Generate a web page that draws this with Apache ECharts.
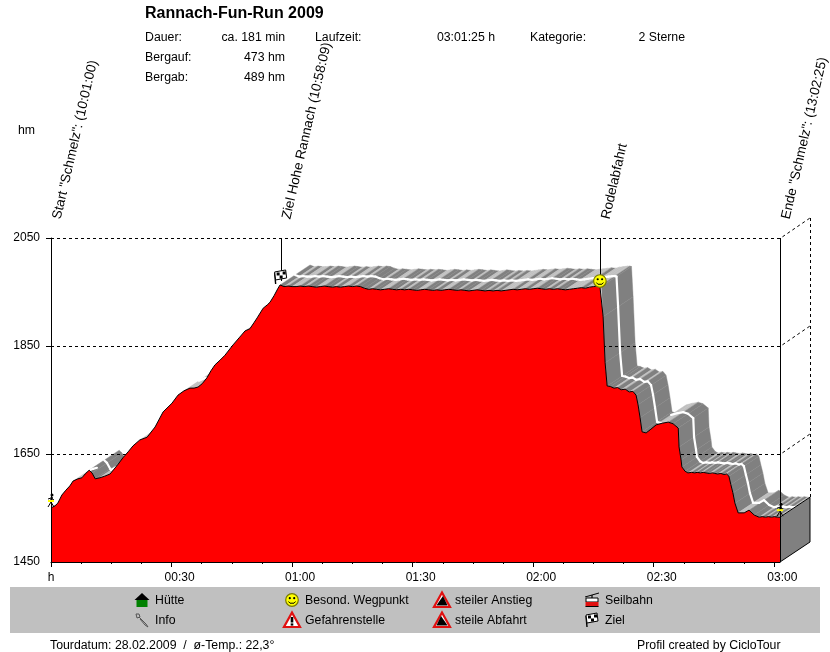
<!DOCTYPE html>
<html><head><meta charset="utf-8">
<style>html,body{margin:0;padding:0;background:#fff}#c{width:830px;height:652px}</style>
<script src="https://cdn.jsdelivr.net/npm/echarts@6/dist/echarts.min.js"></script>
</head><body><div id="c"></div>
<script>
// ---- data ----
const times = [0,1,1.7,2.7,3.7,4.7,5.5,6.7,7.7,8.5,9.5,10.2,11,11.2,12.2,13.4,14.7,15.7,16.7,17.9,19.2,20.4,22.1,23.9,25.9,27.9,30.1,31.6,33.1,34.6,35.6,36.6,37.6,38.8,39.8,40.8,42.1,43.3,45.3,46.8,48.3,49.5,50.5,51.3,52.8,53.8,54.5,55.5,56.5,57,
58,59,60,61,62,63,64,65,66,67,68,69,70,71,72,73,74,75,76,77,78,79,80,81,82,83,84,85,86,87,88,89,90,91,92,93,94,95,96,97,98,99,100,101,102,103,104,105,106,107,108,109,110,111,112,113,114,115,116,117,118,119,120,121,122,123,124,125,126,127,128,129,130,131,132,133,134,135,136,136.6,137,137.4,137.9,138.4,
139.2,140.1,141,141.9,142.9,143.9,144.8,145.6,146.1,146.6,147.1,148.1,149.3,150.6,152.1,153.6,154.8,156.1,156.3,156.8,157,157.8,158.5,159.4,160.2,160.8,161.6,162.3,163,163.8,164.6,165.2,165.9,166.7,167.5,168.1,168.7,169.2,169.7,170.2,171,172.5,173.7,175,176.2,177,177.8,178.5,179.3,180,180.8,181.42];
const elevations = [1550,1554,1559,1574,1583,1591,1600,1604,1606,1613,1620,1615,1604,1602,1606,1609,1613,1622,1631,1643,1654,1665,1676,1681,1700,1728,1744,1759,1767,1772,1772,1774,1780,1791,1804,1815,1824,1833,1852,1865,1878,1882,1893,1902,1920,1926,1931,1943,1957,1963,
1960,1961,1960,1960,1961,1960,1961,1960,1959,1960,1961,1960,1959,1960,1959,1960,1961,1960,1961,1960,1957,1955,1956,1955,1954,1955,1956,1955,1954,1955,1954,1955,1954,1953,1954,1955,1954,1953,1954,1953,1954,1955,1954,1953,1954,1953,1952,1953,1954,1953,1952,1953,1952,1953,1952,1953,1954,1955,1954,1955,1956,1955,1956,1957,1956,1955,1956,1955,1956,1955,1954,1955,1956,1957,1958,1957,1959,1960,1961,1961,1960,1904,1819,1776,
1775,1772,1773,1769,1770,1765,1766,1759,1741,1717,1691,1689,1696,1704,1707,1709,1706,1698,1663,1639,1626,1618,1615,1616,1615,1616,1615,1616,1615,1614,1615,1614,1613,1614,1612,1613,1609,1593,1578,1559,1541,1541,1546,1537,1533,1534,1533,1534,1533,1534,1533,1533];
const yTicks = [1450,1650,1850,2050];
const gridLevels = [1650,1850,2050];
const xMajor = [0,30,60,90,120,150,180];
const xMinor = [7.5,15,22.5,37.5,45,52.5,67.5,75,82.5,97.5,105,112.5,127.5,135,142.5,157.5,165,172.5];
const tourEnd = 181.42;
const waypointTimes = [0,57.15,136.6,181.42];
const waypointLabels = ['Start "Schmelz": (10:01:00)','Ziel Hohe Rannach (10:58:09)','Rodelabfahrt','Ende "Schmelz": (13:02:25)'];
const waypointIcons = ['runner','flag','smile','runner'];
const waypointElev = [1550,1963,1961,1533];
const titleText = 'Rannach-Fun-Run 2009';
const infoLeft = [['Dauer:','ca. 181 min'],['Bergauf:','473 hm'],['Bergab:','489 hm']];
const infoMid = ['Laufzeit:','03:01:25 h'];
const infoRight = ['Kategorie:','2 Sterne'];
const legendNames = [['Hütte','Info'],['Besond. Wegpunkt','Gefahrenstelle'],['steiler Anstieg','steile Abfahrt'],['Seilbahn','Ziel']];
const legendIcons = [['house','pin'],['smile','danger'],['up','down'],['cable','flag']];
const footerLeft = 'Tourdatum: 28.02.2009  /  ø-Temp.: 22,3°';
const footerRight = 'Profil created by CicloTour';

// ---- look ----
const FONT = '"Liberation Sans",Arial,sans-serif';
const DX = 30, DY = -20;
const series3d = times.map((t,i)=>[t,elevations[i]]);
const TXT = '#000';

// ---- icons (local coordinates around 0,0) ----
function poly(points,fill,stroke,lw){return {type:'polygon',shape:{points},style:{fill:fill||'none',stroke:stroke||'none',lineWidth:lw||1}};}
function pl(points,stroke,lw){return {type:'polyline',shape:{points},style:{fill:'none',stroke:stroke||'#000',lineWidth:lw||1}};}
function circ(x,y,r,fill,stroke,lw){return {type:'circle',shape:{cx:x,cy:y,r},style:{fill,stroke:stroke||'none',lineWidth:lw||1}};}
function rect(x,y,w,h,fill){return {type:'rect',shape:{x,y,width:w,height:h},style:{fill}};}
const ICONS = {
  smile:()=>[circ(0,0,6.3,'#ffff00','#7a7a00',1.2),circ(-2.2,-1.8,1.1,'#000'),circ(2.2,-1.8,1.1,'#000'),pl([[-3.5,1.5],[-2,3.2],[2,3.2],[3.5,1.5]],'#000',1)],
  flag:()=>[pl([[-5,7],[-6,-4]],'#000',1.4),poly([[-6,-5],[5,-7],[6,1],[-5,3]],'#fff','#000',1),rect(-4,-4.5,3,3,'#000'),rect(2,-5.5,3,3,'#000'),rect(-1,-1.5,3,3,'#000')],
  runner:()=>[circ(1,-7,1.5,'#000'),pl([[1,-5],[0,-1]],'#000',2),pl([[-3,-3],[0,-4],[3,-2]],'#000',1),pl([[-3,-1],[3,-1]],'#ffff00',2),pl([[0,0],[-3,5]],'#000',1),pl([[0,0],[3,5]],'#000',1)],
  house:()=>[poly([[-7.5,0],[0,-7],[7.5,0]],'#000'),rect(-5.5,0,11,7,'#008000')],
  pin:()=>[pl([[-6,-6],[-3,-6],[-2,-3],[-5,-2],[-6,-6]],'#555',1),pl([[-3,-3],[4,4],[6,7],[3,5],[-2,-1]],'#555',1)],
  danger:()=>[poly([[0,-7.5],[8,7],[-8,7]],'#fff','#e01010',2.2),rect(-1.3,-3,2.6,5.5,'#000'),rect(-1.3,3.4,2.6,2.2,'#000')],
  up:()=>[poly([[0,-7.5],[8,7],[-8,7]],'#fff','#e01010',2.2),poly([[1,-4],[5.6,5.6],[-5.6,5.6]],'#000')],
  down:()=>[poly([[0,-7.5],[8,7],[-8,7]],'#fff','#e01010',2.2),poly([[-1,-4],[5.6,5.6],[-5.6,5.6]],'#000')],
  cable:()=>[pl([[-7,-3],[7,-7]],'#000',1),pl([[0,-5],[0,-2]],'#000',1.2),poly([[-6,-2],[6,-2],[6,2],[-6,2]],'#fff','#000',1),rect(-6.5,2,13,4.5,'#e01010'),rect(-6.5,6,13,1,'#000')]
};
function icon(name,x,y){return {type:'group',x,y,children:ICONS[name]()};}
function txt(text,x,y,opt){opt=opt||{};return {type:'text',x,y,z:20,style:{text,fill:TXT,font:(opt.font||'12.3px '+FONT),textAlign:opt.align||'left',textVerticalAlign:'middle'}};}

// ---- fixed page furniture ----
const graphics = [{type:'rect',z:0,shape:{x:10,y:587,width:810,height:46},style:{fill:'#c0c0c0'}}];
graphics.push(txt(titleText,145,14,{font:'bold 16px '+FONT}));
infoLeft.forEach((r,i)=>{graphics.push(txt(r[0],145,38+20*i));graphics.push(txt(r[1],285,38+20*i,{align:'right'}));});
graphics.push(txt(infoMid[0],315,38));graphics.push(txt(infoMid[1],495,38,{align:'right'}));
graphics.push(txt(infoRight[0],530,38));graphics.push(txt(infoRight[1],685,38,{align:'right'}));
graphics.push(txt('hm',18,131));
const legendX=[155,305,455,605];
legendNames.forEach((col,c)=>col.forEach((n,r)=>{
  const y=600+20*r;
  graphics.push(txt(n,legendX[c],y+1));
  const ic=icon(legendIcons[c][r],legendX[c]-13,y); ic.z=20; graphics.push(ic);
}));
graphics.push(txt(footerLeft,50,646));
graphics.push(txt(footerRight,637,646));

// ---- series renderers ----
function backFacing(a,b){ return (b[1]-a[1])*DX < DY*(b[0]-a[0]); }
function ribbon(params,api){
  const i=params.dataIndex; if(i>=times.length-1) return;
  const a=api.coord([times[i],elevations[i]]), b=api.coord([times[i+1],elevations[i+1]]);
  if(backFacing(a,b)) return;
  const col=elevations[i+1]<elevations[i]?'#808080':'#c0c0c0';
  return {type:'polygon',shape:{points:[a,b,[b[0]+DX,b[1]+DY],[a[0]+DX,a[1]+DY]]},style:{fill:col,stroke:col,lineWidth:0.4}};
}
function midline(params,api){
  const i=params.dataIndex; if(i>=times.length-1) return;
  const a=api.coord([times[i],elevations[i]]), b=api.coord([times[i+1],elevations[i+1]]);
  if(backFacing(a,b)) return;
  return {type:'line',shape:{x1:a[0]+DX/2,y1:a[1]+DY/2,x2:b[0]+DX/2,y2:b[1]+DY/2},style:{stroke:'#fff',lineWidth:2.2,lineCap:'round'}};
}
function gridRender(params,api){
  const v=gridLevels[params.dataIndex];
  const a=api.coord([0,v]),b=api.coord([tourEnd,v]);
  const s={fill:'none',stroke:'#000',lineWidth:1,lineDash:[3,3]};
  const kids=[{type:'polyline',shape:{points:[[a[0],a[1]+.5],[b[0],b[1]+.5],[b[0]+DX,b[1]+DY]]},style:s}];
  if(v===2050){const e=api.coord([tourEnd,elevations[elevations.length-1]]);
    kids.push({type:'line',shape:{x1:b[0]+DX+.5,y1:b[1]+DY,x2:b[0]+DX+.5,y2:e[1]+DY},style:s});}
  return {type:'group',children:kids};
}
function endFace(params,api){
  if(params.dataIndex!==0) return;
  const t=api.coord([tourEnd,elevations[elevations.length-1]]),o=api.coord([tourEnd,yTicks[0]]);
  return {type:'polygon',shape:{points:[t,[t[0]+DX,t[1]+DY],[o[0]+DX,o[1]+DY],o]},style:{fill:'#808080',stroke:'#000',lineWidth:1}};
}
function waypoints(params,api){
  const i=params.dataIndex;
  const top=api.coord([waypointTimes[i],2050]),p=api.coord([waypointTimes[i],waypointElev[i]]);
  const kids=[];
  const edge=i===0||i===3;
  const x=Math.round(top[0])+.5;
  if(!edge) kids.push({type:'line',shape:{x1:x,y1:top[1],x2:x,y2:p[1]-4},style:{stroke:'#000',lineWidth:1}});
  else if(i===3) kids.push({type:'line',shape:{x1:x,y1:top[1],x2:x,y2:api.coord([tourEnd,1450])[1]},style:{stroke:'#000',lineWidth:1}});
  const dy={runner:-6,flag:-8,smile:-5}[waypointIcons[i]];
  kids.push(icon(waypointIcons[i],top[0],p[1]+dy));
  kids.push({type:'text',x:top[0]+6,y:top[1]-19,rotation:77*Math.PI/180,
    style:{text:waypointLabels[i],fill:TXT,font:'13.5px '+FONT,textAlign:'left',textVerticalAlign:'middle'}});
  return {type:'group',children:kids};
}

const chart=echarts.init(document.getElementById('c'),null,{renderer:'canvas'});
chart.setOption({
  animation:false,
  backgroundColor:'#fff',
  graphic:{elements:graphics},
  grid:{left:51,top:238,width:729,height:324,containLabel:false},
  xAxis:[{
    type:'value',min:0,max:tourEnd,interval:30,position:'bottom',z:8,
    axisLine:{onZero:false,lineStyle:{color:'#000',width:1}},
    axisTick:{show:true,length:5,inside:false,lineStyle:{color:'#000'},customValues:xMajor},
    minorTick:{show:false},splitLine:{show:false},
    axisLabel:{margin:10,color:'#000',fontFamily:'Liberation Sans',fontSize:12,customValues:xMajor,
      formatter:v=>{
        if(v===0) return '{h|h}';
        const h=Math.floor(v/60),m=Math.round(v-h*60);
        return '{t|'+String(h).padStart(2,'0')+':'+String(m).padStart(2,'0')+'}';
      },
      rich:{h:{fontFamily:'Liberation Sans',fontSize:12,color:'#000'},t:{fontFamily:'Liberation Sans',fontSize:12,color:'#000',padding:[0,0,0,16]}}}
  },{
    type:'value',min:0,max:tourEnd,interval:30,position:'bottom',z:8,
    axisLine:{show:false,onZero:false},
    axisTick:{show:true,length:2,lineStyle:{color:'#000'},customValues:xMinor},
    axisLabel:{show:false},splitLine:{show:false}
  }],
  yAxis:{
    type:'value',min:1450,max:2050,interval:200,position:'left',z:8,
    axisLine:{show:true,onZero:false,lineStyle:{color:'#000',width:1}},
    axisTick:{show:true,length:5,lineStyle:{color:'#000'},customValues:gridLevels},
    splitLine:{show:false},
    axisLabel:{margin:11,color:'#000',fontFamily:'Liberation Sans',fontSize:12,customValues:yTicks,formatter:v=>String(v)}
  },
  series:[
    {type:'custom',name:'ribbon',coordinateSystem:'cartesian2d',z:2,silent:true,clip:false,data:series3d,renderItem:ribbon},
    {type:'custom',name:'midline',coordinateSystem:'cartesian2d',z:3,silent:true,clip:false,data:series3d,renderItem:midline},
    {type:'custom',name:'grid',coordinateSystem:'cartesian2d',z:4,silent:true,clip:false,data:gridLevels.map(v=>[0,v]),renderItem:gridRender},
    {type:'custom',name:'end',coordinateSystem:'cartesian2d',z:5,silent:true,clip:false,data:[[tourEnd,elevations[elevations.length-1]]],renderItem:endFace},
    {type:'line',name:'Profil',z:6,silent:true,showSymbol:false,symbol:'none',smooth:false,data:series3d,
      lineStyle:{color:'#000',width:1},areaStyle:{color:'#ff0000',opacity:1}},
    {type:'custom',name:'waypoints',coordinateSystem:'cartesian2d',z:9,silent:true,clip:false,data:waypointTimes.map((t,i)=>[t,waypointElev[i]]),renderItem:waypoints}
  ]
});
</script></body></html>
